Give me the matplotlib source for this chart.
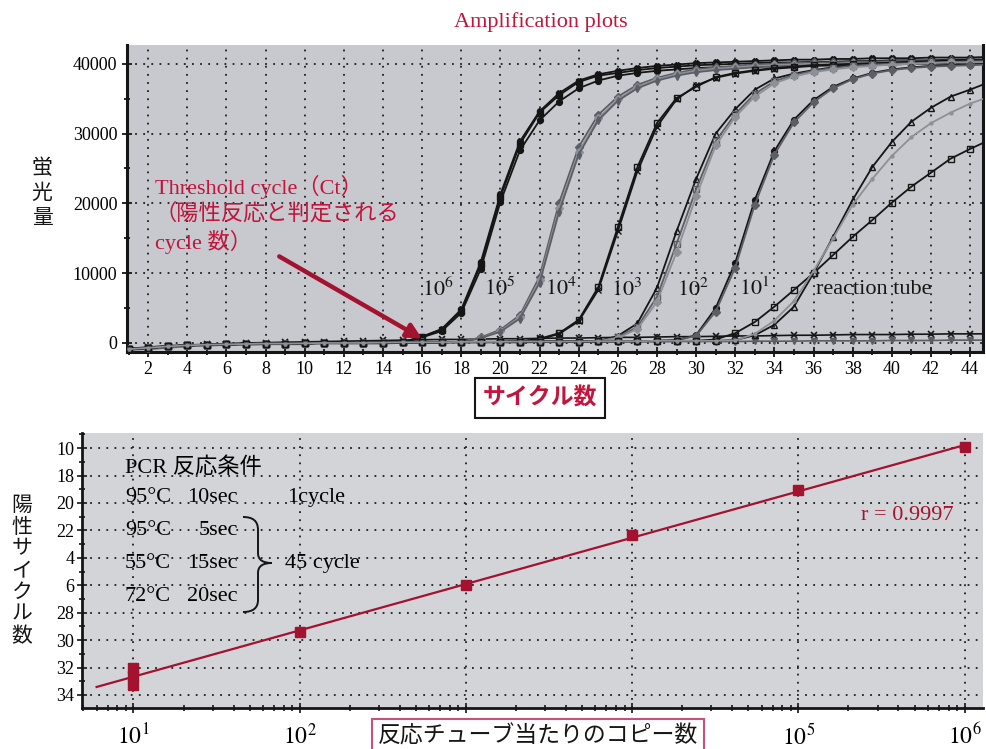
import numpy as np
import matplotlib
matplotlib.use('Agg')
import matplotlib.pyplot as plt
from matplotlib.path import Path
from matplotlib.patches import PathPatch
from matplotlib.ticker import MultipleLocator, FixedLocator, LogLocator, NullFormatter, FixedFormatter

plt.rcParams['font.family'] = ['Liberation Serif', 'Noto Sans CJK JP']
plt.rcParams['mathtext.fontset'] = 'stix'

RED = '#c2143c'
DARKRED = '#a3122f'
BG_TOP = '#c8c9ce'
BG_BOTTOM = '#d3d4d8'
BLACK = '#151515'
GRAY = '#5c5e66'
LGRAY = '#8e9097'

# ---- amplification plot data: fluorescence in thousands, cycles 1..45
cycles = np.arange(1, 46)

baseline = [-0.9, -0.7, -0.5, -0.35, -0.25, -0.2, -0.15, -0.1, -0.1, -0.05,
            0.0, 0.0, 0.0, 0.05, 0.1, 0.1, 0.1, 0.15, 0.15, 0.15,
            0.2, 0.2, 0.2, 0.2, 0.25, 0.25, 0.25, 0.3, 0.3, 0.3,
            0.3, 0.35, 0.35]

# 10^6 copies
r6_a = [0.9, 1.9, 4.6, 11.3, 20.9, 28.5, 33.0, 35.5, 37.4, 38.3, 38.7, 39.1, 39.4, 39.6, 39.8,
        39.9, 40.0, 40.1, 40.2, 40.2, 40.3, 40.3, 40.4, 40.4, 40.5, 40.5, 40.5, 40.6, 40.6, 40.6]
r6_b = [0.8, 1.7, 4.3, 10.6, 20.2, 27.6, 31.9, 34.6, 36.5, 37.6, 38.3, 38.7, 39.0, 39.2, 39.4,
        39.5, 39.6, 39.7, 39.7, 39.8, 39.8, 39.8, 39.9, 39.9, 39.9, 40.0, 40.0, 40.0, 40.0, 40.1]
r6_c = [0.9, 2.0, 4.8, 11.6, 21.3, 28.9, 33.2, 35.8, 37.6, 38.5, 39.0, 39.4, 39.7, 39.9, 40.1,
        40.2, 40.3, 40.4, 40.5, 40.6, 40.6, 40.7, 40.7, 40.8, 40.8, 40.8, 40.9, 40.9, 40.9, 41.0]
# 10^5 copies
r5_a = [0.8, 1.9, 4.0, 9.5, 20.1, 28.1, 32.7, 35.3, 37.0, 38.0, 38.7, 39.2, 39.5, 39.7,
        39.9, 40.0, 40.1, 40.2, 40.2, 40.3, 40.3, 40.4, 40.4, 40.4, 40.5, 40.5, 40.5]
r5_b = [0.7, 1.7, 3.7, 9.0, 19.3, 27.4, 32.2, 34.9, 36.7, 37.8, 38.5, 39.0, 39.3, 39.5,
        39.7, 39.8, 39.9, 40.0, 40.0, 40.1, 40.1, 40.2, 40.2, 40.2, 40.3, 40.3, 40.3]
r5_c = [0.7, 1.6, 3.5, 8.6, 18.8, 27.0, 31.9, 34.7, 36.5, 37.6, 38.3, 38.8, 39.1, 39.3,
        39.5, 39.6, 39.7, 39.8, 39.8, 39.9, 39.9, 39.9, 40.0, 40.0, 40.0, 40.0, 40.1]
# 10^4 copies
r4_a = [0.6, 1.4, 3.3, 8.0, 16.6, 25.2, 31.5, 35.1, 36.7, 38.1, 38.7, 39.1, 39.4, 39.6,
        39.8, 39.9, 40.0, 40.1, 40.1, 40.2, 40.2, 40.3, 40.3, 40.3]
r4_b = [0.5, 1.3, 3.1, 7.6, 16.0, 24.6, 31.0, 34.9, 36.9, 38.0, 38.6, 39.0, 39.3, 39.5,
        39.7, 39.8, 39.9, 40.0, 40.0, 40.1, 40.1, 40.1, 40.2, 40.2]
# 10^3 copies
r3_a = [1.0, 2.8, 7.9, 16.0, 23.5, 30.0, 33.5, 36.3, 37.9, 38.6, 39.1, 39.5, 39.8, 40.0,
        40.2, 40.3, 40.4, 40.5, 40.6, 40.6]
r3_b = [0.8, 2.3, 6.6, 14.2, 22.0, 28.9, 32.8, 35.7, 37.5, 38.4, 39.0, 39.4, 39.7, 39.9,
        40.0, 40.1, 40.2, 40.3, 40.3, 40.4]
r3_c = [0.7, 2.0, 5.9, 13.0, 21.0, 28.3, 32.4, 35.3, 37.2, 38.2, 38.8, 39.2, 39.5, 39.7,
        39.9, 40.0, 40.1, 40.2, 40.2, 40.3]
# 10^2 copies
r2_a = [0.4, 1.1, 5.0, 11.5, 20.5, 27.5, 32.0, 34.8, 36.7, 37.9, 38.7, 39.2, 39.5, 39.7,
        39.8, 39.9, 40.0]
r2_b = [0.4, 1.0, 4.5, 10.8, 19.8, 27.0, 31.6, 34.5, 36.5, 37.8, 38.6, 39.1, 39.4, 39.6,
        39.7, 39.8, 39.9]
# 10^1 copies
r1_a = [0.4, 1.1, 2.6, 5.2, 10.0, 15.2, 20.5, 25.2, 28.8, 31.7, 33.7, 35.3, 36.3, 37.4]
r1_b = [0.5, 1.4, 3.0, 5.2, 7.6, 10.0, 12.6, 15.2, 17.6, 20.1, 22.4, 24.4, 26.4, 27.8, 29.1]
r1_c = [1.3, 3.2, 6.0, 10.3, 15.0, 19.8, 23.5, 26.8, 29.5, 31.5, 33.0, 34.3, 35.3]
# no-template wells
neg_a = [-0.8, -0.6, -0.4, -0.3, -0.2, -0.1, 0.0, 0.05, 0.1, 0.15,
         0.2, 0.25, 0.3, 0.35, 0.4, 0.45, 0.5, 0.5, 0.55, 0.6,
         0.6, 0.65, 0.7, 0.7, 0.75, 0.8, 0.8, 0.85, 0.9, 0.9,
         0.95, 1.0, 1.0, 1.05, 1.1, 1.1, 1.15, 1.2, 1.2, 1.2,
         1.25, 1.25, 1.3, 1.3, 1.3]
neg_b = [-1.0, -0.9, -0.7, -0.5, -0.4, -0.3, -0.3, -0.2, -0.2, -0.2,
         -0.1, -0.1, -0.1, -0.1, 0.0, 0.0, 0.0, 0.0, 0.05, 0.05,
         0.05, 0.1, 0.1, 0.1, 0.1, 0.15, 0.15, 0.15, 0.2, 0.2,
         0.2, 0.2, 0.25, 0.25, 0.25, 0.3, 0.3, 0.3, 0.3, 0.35,
         0.35, 0.35, 0.4, 0.4, 0.4]

dilution_labels = ['$10^6$', '$10^5$', '$10^4$', '$10^3$', '$10^2$', '$10^1$', 'reaction tube']
label_cycles = [16.0, 19.15, 22.3, 25.65, 29.0, 32.2, 36.15]

# ---- standard curve data
copies = [1e1, 1e1, 1e1, 1e2, 1e3, 1e4, 1e5, 1e6]
ct = [32.0, 32.65, 33.3, 29.4, 26.0, 22.35, 19.07, 15.9]
ct_ticks = [16, 18, 20, 22, 24, 26, 28, 30, 32, 34]
ct_tick_labels = ['10', '18', '20', '22', '4', '6', '28', '30', '32', '34']
decade_labels = ['$10^1$', '$10^2$', '', '', '$10^5$', '$10^6$']


def with_base(rise):
    vals = baseline[:45 - len(rise)] + rise
    assert len(vals) == 45
    return np.array(vals) * 1000


curves = [
    (with_base(r6_a), BLACK, 's', BLACK),
    (with_base(r6_b), BLACK, 'o', BLACK),
    (with_base(r6_c), BLACK, 'X', BLACK),
    (with_base(r5_a), GRAY, 'D', GRAY),
    (with_base(r5_b), LGRAY, 'D', LGRAY),
    (with_base(r5_c), GRAY, 'd', GRAY),
    (with_base(r4_a), BLACK, 's', 'none'),
    (with_base(r4_b), BLACK, 'x', BLACK),
    (with_base(r3_a), BLACK, '^', 'none'),
    (with_base(r3_b), GRAY, 's', 'none'),
    (with_base(r3_c), LGRAY, 'D', LGRAY),
    (with_base(r2_a), BLACK, 'o', BLACK),
    (with_base(r2_b), GRAY, 'D', GRAY),
    (with_base(r1_a), BLACK, '^', 'none'),
    (with_base(r1_b), BLACK, 's', 'none'),
    (with_base(r1_c), LGRAY, '.', LGRAY),
]

fig = plt.figure(figsize=(9.87, 7.49), dpi=100)

# ---- top panel: amplification plots
ax1 = fig.add_axes([127 / 987, 1 - 352 / 749, 856 / 987, 307 / 749])
ax1.set_facecolor(BG_TOP)

ax1.plot(cycles, np.array(neg_a) * 1000, color=BLACK, lw=1.2, marker='x', ms=4, mew=1.2)
ax1.plot(cycles, np.array(neg_b) * 1000, color=GRAY, lw=1.2, marker='v', ms=4)
for vals, col, mk, mfc in curves:
    ax1.plot(cycles, vals, color=col, lw=1.3, marker=mk, ms=4.2,
             mfc=mfc, mec=col, mew=1.0, zorder=3)

ax1.set_xlim(0.92, 44.66)
ax1.set_ylim(-1300, 42700)
ax1.xaxis.set_major_locator(MultipleLocator(2))
ax1.xaxis.set_minor_locator(MultipleLocator(1))
ax1.yaxis.set_major_locator(MultipleLocator(10000))
ax1.yaxis.set_minor_locator(MultipleLocator(5000))
ax1.grid(True, which='major', color='#1e1e1e', linestyle=(0, (1, 3.5)), lw=1.3)
ax1.tick_params(which='both', direction='inout', width=1.3, labelsize=13, color=BLACK)
ax1.tick_params(which='major', length=7)
ax1.tick_params(which='minor', length=4)
ax1.tick_params(axis='x', pad=3)
ax1.spines['top'].set_visible(False)
for side in ('left', 'bottom', 'right'):
    ax1.spines[side].set_linewidth(2.2)
    ax1.spines[side].set_color(BLACK)

for txt, cx in zip(dilution_labels, label_cycles):
    ax1.text(cx, 7700, txt, fontsize=16, ha='left', va='center', color=BLACK)

ax1.text(2.35, 24000, 'Threshold cycle（Ct）\n（陽性反応と判定される\ncycle 数）',
         color=RED, fontsize=16, ha='left', va='top', linespacing=1.25)
ax1.annotate('', xy=(16.0, 600), xytext=(8.7, 12400),
             arrowprops=dict(arrowstyle='-|>', color=DARKRED, lw=3.2,
                             mutation_scale=22, shrinkA=0, shrinkB=0), zorder=5)

fig.text(541 / 987, 1 - 22 / 749, 'Amplification plots', color=RED,
         fontsize=16, ha='center', va='center')
fig.text(42 / 987, 1 - 194 / 749, '蛍\n光\n量', fontsize=15, ha='center',
         va='center', linespacing=1.4, color=BLACK)
fig.text(540 / 987, 1 - 398 / 749, 'サイクル数', color=RED, fontsize=16.5,
         fontweight='bold', family=['Noto Sans CJK JP'], ha='center', va='center',
         bbox=dict(boxstyle='square,pad=0.35', fc='white', ec=BLACK, lw=1.5))

# ---- bottom panel: standard curve
ax2 = fig.add_axes([82 / 987, 1 - 708 / 749, 901 / 987, 275 / 749])
ax2.set_facecolor(BG_BOTTOM)
ax2.set_xscale('log')

slope, icpt = np.polyfit(np.log10(copies), ct, 1)
fit_x = np.array([6.0, 1e6])
ax2.plot(fit_x, slope * np.log10(fit_x) + icpt, color=DARKRED, lw=1.6, zorder=3)
ax2.plot(copies, ct, ls='none', marker='s', ms=6.8, color=DARKRED, zorder=4)

ax2.set_xlim(4.9, 1.29e6)
ax2.set_ylim(34.95, 14.9)
ax2.xaxis.set_major_locator(FixedLocator([1e1, 1e2, 1e3, 1e4, 1e5, 1e6]))
ax2.xaxis.set_major_formatter(FixedFormatter(decade_labels))
ax2.xaxis.set_minor_locator(LogLocator(base=10, subs=np.arange(2, 10)))
ax2.xaxis.set_minor_formatter(NullFormatter())
ax2.yaxis.set_major_locator(FixedLocator(ct_ticks))
ax2.yaxis.set_major_formatter(FixedFormatter(ct_tick_labels))
ax2.yaxis.set_minor_locator(MultipleLocator(1))
ax2.grid(True, which='major', color='#1e1e1e', linestyle=(0, (1, 3.5)), lw=1.3)
ax2.tick_params(which='both', direction='inout', width=1.2, color=BLACK)
ax2.tick_params(which='major', length=7)
ax2.tick_params(which='minor', length=4)
ax2.tick_params(axis='y', labelsize=13, pad=2)
ax2.tick_params(axis='x', labelsize=17, pad=8)
ax2.spines['top'].set_visible(False)
ax2.spines['right'].set_visible(False)
for side in ('left', 'bottom'):
    ax2.spines[side].set_linewidth(2.0)
    ax2.spines[side].set_color(BLACK)

ax2.text(8.6e5, 20.9, 'r = 0.9997', color=DARKRED, fontsize=16, ha='right', va='center')

# PCR conditions block
tx = ax2.transAxes
ax2.text(0.0477, 0.876, 'PCR 反応条件', transform=tx, fontsize=16, va='center')
rows = [('95°C', '10sec', 0.764), ('95°C', '5sec', 0.647),
        ('55°C', '15sec', 0.527), ('72°C', '20sec', 0.404)]
for temp, dur, yy in rows:
    ax2.text(0.0477, yy, temp, transform=tx, fontsize=16, va='center')
    ax2.text(0.173, yy, dur, transform=tx, fontsize=16, va='center', ha='right')
ax2.text(0.2275, 0.764, '1cycle', transform=tx, fontsize=16, va='center')
ax2.text(0.225, 0.527, '45 cycle', transform=tx, fontsize=16, va='center')


def px(x, y):
    return ((x - 82) / 901, (708 - y) / 275)


brace_pts = [px(243, 517), px(253, 517), px(258, 521), px(258, 530),
             px(258, 553), px(258, 560), px(263, 563), px(272, 563),
             px(263, 563), px(258, 566), px(258, 573),
             px(258, 600), px(258, 608), px(253, 612), px(243, 612)]
brace_codes = [Path.MOVETO, Path.CURVE4, Path.CURVE4, Path.CURVE4,
               Path.LINETO, Path.CURVE4, Path.CURVE4, Path.CURVE4,
               Path.CURVE4, Path.CURVE4, Path.CURVE4,
               Path.LINETO, Path.CURVE4, Path.CURVE4, Path.CURVE4]
ax2.add_patch(PathPatch(Path(brace_pts, brace_codes), transform=tx,
                        fc='none', ec=BLACK, lw=1.4))

fig.text(22 / 987, 1 - 572 / 749, '陽\n性\nサ\nイ\nク\nル\n数', fontsize=15,
         ha='center', va='center', linespacing=1.2, color=BLACK)
fig.text(538 / 987, 1 - 736 / 749, '反応チューブ当たりのコピー数', fontsize=16.5,
         ha='center', va='center', color=BLACK,
         bbox=dict(boxstyle='square,pad=0.25', fc='white', ec='#c8507a', lw=1.5))

fig.savefig('out.png', dpi=100)
